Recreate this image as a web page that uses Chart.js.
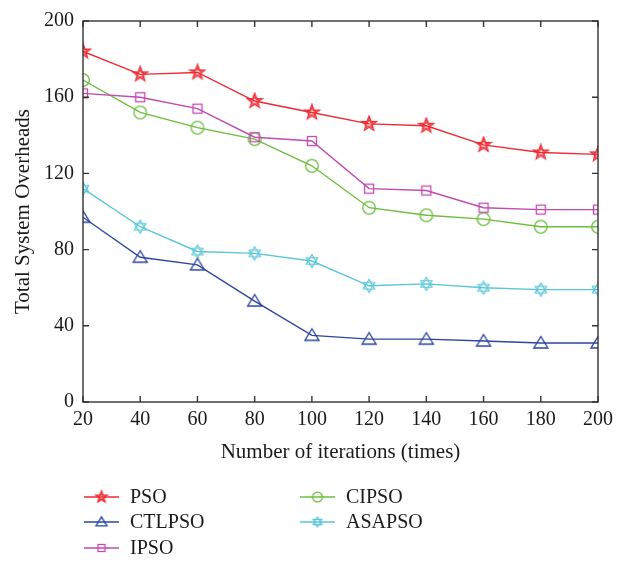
<!DOCTYPE html>
<html>
<head>
<meta charset="utf-8">
<script src="https://cdn.jsdelivr.net/npm/chart.js@4/dist/chart.umd.min.js"></script>
<style>
  html, body { margin: 0; padding: 0; background: #fff; }
  #wrap { width: 626px; height: 565px; }
</style>
</head>
<body>
<div id="wrap"><canvas id="c" width="626" height="565"></canvas></div>
<script>
// Iteration counts on the x axis
const iterations = [20, 40, 60, 80, 100, 120, 140, 160, 180, 200];

// Total system overheads per algorithm
const pso    = [184, 172, 173, 158, 152, 146, 145, 135, 131, 130];
const ctlpso = [97, 76, 72, 53, 35, 33, 33, 32, 31, 31];
const ipso   = [162, 160, 154, 139, 137, 112, 111, 102, 101, 101];
const cipso  = [169, 152, 144, 138, 124, 102, 98, 96, 92, 92];
const asapso = [112, 92, 79, 78, 74, 61, 62, 60, 59, 59];

const yTicks = [0, 40, 80, 120, 160, 200];

const FONT = "'Liberation Serif', 'DejaVu Serif', serif";

// ---- marker sprites -------------------------------------------------------
function sprite(size, draw) {
  const cv = document.createElement('canvas');
  cv.width = size; cv.height = size;
  const g = cv.getContext('2d');
  g.translate(size / 2, size / 2);
  draw(g);
  return cv;
}
function starPath(g, n, rOut, rIn) {
  g.beginPath();
  for (let i = 0; i < n * 2; i++) {
    const r = i % 2 === 0 ? rOut : rIn;
    const a = -Math.PI / 2 + i * Math.PI / n;
    const px = r * Math.cos(a), py = r * Math.sin(a);
    if (i === 0) g.moveTo(px, py); else g.lineTo(px, py);
  }
  g.closePath();
}
function fiveStar(color, k) {
  return sprite(18, g => {
    g.scale(k, k);
    g.strokeStyle = color; g.lineWidth = 1.3 / k;
    starPath(g, 5, 7.8, 3.3); g.stroke();
    g.lineWidth = 1 / k;
    starPath(g, 5, 4.6, 1.9); g.stroke();
  });
}
function hexStar(color, k) {
  return sprite(18, g => {
    g.scale(k, k);
    g.strokeStyle = color; g.lineWidth = 1.2 / k;
    for (const rot of [0, Math.PI]) {
      g.beginPath();
      for (let i = 0; i < 3; i++) {
        const a = -Math.PI / 2 + rot + i * 2 * Math.PI / 3;
        const px = 6.5 * Math.cos(a), py = 6.5 * Math.sin(a);
        if (i === 0) g.moveTo(px, py); else g.lineTo(px, py);
      }
      g.closePath(); g.stroke();
    }
  });
}
function triangle(color, k) {
  return sprite(18, g => {
    g.scale(k, k);
    g.strokeStyle = color; g.lineWidth = 1.4 / k;
    g.beginPath();
    g.moveTo(0, -6.5); g.lineTo(7, 5); g.lineTo(-7, 5); g.closePath();
    g.stroke();
  });
}
function square(color, k) {
  return sprite(16, g => {
    g.scale(k, k);
    g.strokeStyle = color; g.lineWidth = 1.3 / k;
    g.strokeRect(-4.5, -4.5, 9, 9);
  });
}
function circle(color, k) {
  return sprite(18, g => {
    g.scale(k, k);
    g.strokeStyle = color; g.lineWidth = 1.3 / k;
    g.beginPath(); g.arc(0, 0, 6.3, 0, Math.PI * 2); g.stroke();
  });
}

const RED = '#ee2a33', BLUE = '#2d46a0', MAGENTA = '#c04aad', GREEN = '#6cbd3e', CYAN = '#5ac6d8';

function series(label, values, color, shape, legendPos) {
  return {
    label,
    data: iterations.map((x, i) => ({ x, y: values[i] })),
    borderColor: color,
    backgroundColor: 'transparent',
    borderWidth: 1.4,
    pointStyle: shape(color, 1),
    legendMarker: shape(color, 0.78),
    pointRadius: 7,
    pointHoverRadius: 7,
    tension: 0,
    legendPos
  };
}

const datasets = [
  series('PSO', pso, RED, fiveStar, [0, 0]),
  series('CTLPSO', ctlpso, BLUE, triangle, [0, 1]),
  series('IPSO', ipso, MAGENTA, square, [0, 2]),
  series('CIPSO', cipso, GREEN, circle, [1, 0]),
  series('ASAPSO', asapso, CYAN, hexStar, [1, 1])
];

// Frame with inward tick marks on all four sides
const framePlugin = {
  id: 'frame',
  afterDatasetsDraw(chart) {
    const { ctx, chartArea: a, scales: { x, y } } = chart;
    ctx.save();
    ctx.strokeStyle = '#333';
    ctx.lineWidth = 1.4;
    ctx.strokeRect(a.left, a.top, a.right - a.left, a.bottom - a.top);
    ctx.beginPath();
    const tl = 6;
    iterations.forEach(v => {
      const px = x.getPixelForValue(v);
      ctx.moveTo(px, a.bottom); ctx.lineTo(px, a.bottom - tl);
      ctx.moveTo(px, a.top); ctx.lineTo(px, a.top + tl);
    });
    yTicks.forEach(v => {
      const py = y.getPixelForValue(v);
      ctx.moveTo(a.left, py); ctx.lineTo(a.left + tl, py);
      ctx.moveTo(a.right, py); ctx.lineTo(a.right - tl, py);
    });
    ctx.stroke();
    ctx.restore();
  }
};

// Two-column legend below the axis title
const legendPlugin = {
  id: 'colLegend',
  afterDraw(chart) {
    const { ctx } = chart;
    const colX = [84, 300];
    const rowY = [497, 522, 548];
    ctx.save();
    ctx.font = '20px ' + FONT;
    ctx.textBaseline = 'middle';
    ctx.fillStyle = '#1a1a1a';
    chart.data.datasets.forEach(ds => {
      const [c, r] = ds.legendPos;
      const x0 = colX[c], yy = rowY[r];
      ctx.strokeStyle = ds.borderColor;
      ctx.lineWidth = 1.4;
      ctx.beginPath(); ctx.moveTo(x0, yy); ctx.lineTo(x0 + 35, yy); ctx.stroke();
      const img = ds.legendMarker;
      ctx.drawImage(img, x0 + 17.5 - img.width / 2, yy - img.height / 2);
      ctx.fillText(ds.label, x0 + 46, yy + 1);
    });
    ctx.restore();
  }
};

new Chart(document.getElementById('c'), {
  type: 'line',
  data: { datasets },
  options: {
    responsive: false,
    animation: false,
    events: [],
    layout: { padding: { left: 0, top: 14, right: 28, bottom: 100 } },
    plugins: { legend: { display: false }, tooltip: { enabled: false } },
    scales: {
      x: {
        type: 'linear',
        min: 20, max: 200,
        afterFit(s) { s.height = 63; },
        afterBuildTicks(s) { s.ticks = iterations.map(v => ({ value: v })); },
        grid: { display: false, drawTicks: false },
        border: { display: false },
        ticks: { padding: 6, color: '#1a1a1a', font: { family: FONT, size: 20 }, maxRotation: 0 },
        title: {
          display: true, text: 'Number of iterations (times)', color: '#1a1a1a',
          font: { family: FONT, size: 21 }, padding: { top: 0, bottom: 0 }
        }
      },
      y: {
        type: 'linear',
        min: 0, max: 200,
        afterFit(s) { s.width = 83; },
        afterBuildTicks(s) { s.ticks = yTicks.map(v => ({ value: v })); },
        grid: { display: false, drawTicks: false },
        border: { display: false },
        ticks: { padding: 9, color: '#1a1a1a', font: { family: FONT, size: 20 } },
        title: {
          display: true, text: 'Total System Overheads', color: '#1a1a1a',
          font: { family: FONT, size: 21 }, padding: { top: 11, bottom: 0 }
        }
      }
    }
  },
  plugins: [framePlugin, legendPlugin]
});
</script>
</body>
</html>
